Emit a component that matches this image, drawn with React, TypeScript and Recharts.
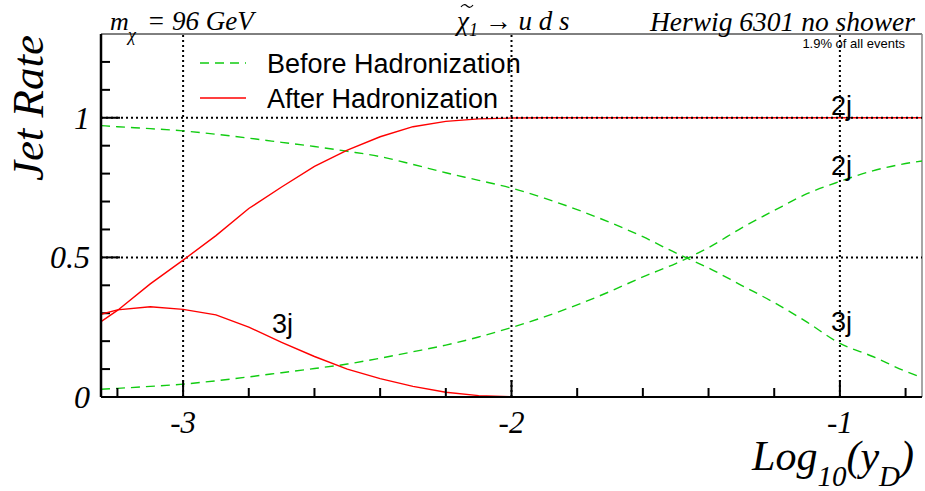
import React from "react";
import { LineChart, Line, XAxis, YAxis, ReferenceLine } from "recharts";

// log10(y_cut) sample points
const logY = [
  -3.25, -3.2, -3.1, -3.0, -2.9, -2.8, -2.7, -2.6, -2.5, -2.4, -2.3, -2.2, -2.1,
  -2.0, -1.9, -1.8, -1.7, -1.6, -1.5, -1.4, -1.3, -1.2, -1.1, -1.0, -0.9, -0.8, -0.75,
];

// before hadronization (partons)
const before2j = [
  0.028, 0.031, 0.038, 0.046, 0.058, 0.072, 0.087, 0.102, 0.118, 0.139, 0.162, 0.186, 0.215,
  0.249, 0.287, 0.33, 0.378, 0.43, 0.478, 0.535, 0.605, 0.668, 0.728, 0.772, 0.81, 0.836, 0.845,
];
const before3j = [
  0.972, 0.968, 0.961, 0.953, 0.941, 0.927, 0.912, 0.897, 0.88, 0.861, 0.833, 0.803, 0.776,
  0.748, 0.712, 0.671, 0.625, 0.574, 0.516, 0.462, 0.4, 0.338, 0.268, 0.192, 0.145, 0.092, 0.07,
];

// after hadronization
const after2j = [
  0.27, 0.31, 0.405, 0.49, 0.578, 0.675, 0.752, 0.826, 0.884, 0.932, 0.968, 0.987, 0.996,
  0.999, 1, 1, 1, 1, 1, 1, 1, 1, 1, 1, 1, 1, 1,
];
const after3j = [
  0.296, 0.312, 0.323, 0.314, 0.294, 0.25, 0.196, 0.145, 0.1, 0.066, 0.038, 0.017, 0.005,
  0.001, 0, 0, 0, 0, 0, 0, 0, 0, 0, 0, 0, 0, 0,
];

const xTicks = [-3.2, -3.0, -2.8, -2.6, -2.4, -2.2, -2.0, -1.8, -1.6, -1.4, -1.2, -1.0, -0.8];
const xMajor = [-3, -2, -1];
const yTicks = [0, 0.1, 0.2, 0.3, 0.4, 0.5, 0.6, 0.7, 0.8, 0.9, 1.0, 1.1, 1.2];
const yMajor = [0, 0.5, 1];

const X_MIN = -3.25;
const X_MAX = -0.75;

const data = logY.map((x, i) => ({
  x,
  b2: before2j[i],
  b3: before3j[i],
  a2: after2j[i],
  a3: after3j[i],
}));

const GREEN = "#11cc11";
const RED = "#ff0000";
const serif = "'Liberation Serif', 'Times New Roman', serif";
const sans = "'Liberation Sans', Arial, sans-serif";

const isMajor = (v: number, list: number[]) => list.some((m) => Math.abs(m - v) < 1e-6);

const XTick = (props: any) => {
  const { x, y, payload } = props;
  const major = isMajor(payload.value, xMajor);
  return (
    <g>
      <line x1={x} x2={x} y1={y} y2={y - (major ? 17 : 9)} stroke="#000" strokeWidth={2} />
      {major && (
        <text x={x} y={y + 36} textAnchor="middle" fontFamily={serif} fontStyle="italic" fontSize={31} fill="#000">
          {String(Math.round(payload.value))}
        </text>
      )}
    </g>
  );
};

const YLabel = (props: any) => {
  const { x, y, payload } = props;
  if (!isMajor(payload.value, yMajor)) return <g />;
  return (
    <text x={x - 11} y={y + 11} textAnchor="end" fontFamily={serif} fontStyle="italic" fontSize={32} fill="#000">
      {String(payload.value)}
    </text>
  );
};

const dotted = { stroke: "#000", strokeWidth: 2, strokeDasharray: "2 3" };

export default function App() {
  return (
    <div style={{ position: "absolute", left: 0, top: 0, width: 925, height: 491, background: "#fff" }}>
      <LineChart width={925} height={491} data={data} margin={{ top: 34, right: 3, bottom: 93, left: 0 }}>
        <XAxis
          dataKey="x"
          type="number"
          domain={[X_MIN, X_MAX]}
          ticks={xTicks}
          tick={<XTick />}
          tickLine={false}
          tickSize={0}
          tickMargin={0}
          height={1}
          axisLine={{ stroke: "#000", strokeWidth: 2 }}
          interval={0}
          allowDataOverflow
        />
        <YAxis
          type="number"
          domain={[0, 1.3]}
          ticks={yTicks}
          tick={<YLabel />}
          tickLine={false}
          tickSize={0}
          tickMargin={0}
          width={101}
          axisLine={{ stroke: "#000", strokeWidth: 2.5 }}
          interval={0}
          allowDataOverflow
        />
        <ReferenceLine y={1.3} stroke="#000" strokeWidth={1} />
        <ReferenceLine x={X_MAX} stroke="#888" strokeWidth={1.5} />
        {/* inward y ticks (9px minor, 19px major) */}
        {yTicks.map((v) => (
          <ReferenceLine
            key={"yt" + v}
            ifOverflow="visible"
            stroke="#000"
            strokeWidth={2}
            segment={[
              { x: X_MIN, y: v },
              { x: X_MIN + (isMajor(v, yMajor) ? 0.058 : 0.0274), y: v },
            ]}
          />
        ))}
        {xMajor.map((v) => (
          <ReferenceLine key={"x" + v} x={v} {...dotted} />
        ))}
        <ReferenceLine y={0.5} {...dotted} />
        <Line dataKey="b3" type="monotone" stroke={GREEN} strokeWidth={1.4} strokeDasharray="9 6" dot={false} isAnimationActive={false} />
        <Line dataKey="b2" type="monotone" stroke={GREEN} strokeWidth={1.4} strokeDasharray="9 6" dot={false} isAnimationActive={false} />
        <Line dataKey="a3" type="linear" stroke={RED} strokeWidth={1.4} dot={false} isAnimationActive={false} />
        <Line dataKey="a2" type="linear" stroke={RED} strokeWidth={1.4} dot={false} isAnimationActive={false} />
        <ReferenceLine y={1} {...dotted} />
      </LineChart>
      <svg width={925} height={491} style={{ position: "absolute", left: 0, top: 0, pointerEvents: "none" }}>
        {/* legend */}
        <line x1={200} x2={246} y1={63} y2={63} stroke={GREEN} strokeWidth={1.4} strokeDasharray="9 6" />
        <text x={267} y={73} fontFamily={sans} fontSize={27} fill="#000">Before Hadronization</text>
        <line x1={200} x2={246} y1={98} y2={98} stroke={RED} strokeWidth={1.4} />
        <text x={267} y={108} fontFamily={sans} fontSize={27} fill="#000">After Hadronization</text>

        <text x={110} y={30} fontFamily={serif} fontStyle="italic" fontSize={26} fill="#000">
          m
        </text>
        <text x={128} y={41} fontFamily={serif} fontStyle="italic" fontSize={18} fill="#000">
          χ
        </text>
        <text x={147} y={30} fontFamily={serif} fontStyle="italic" fontSize={27} fill="#000">
          = 96 GeV
        </text>
        <path d="M461 7 q3 -4 6 -1 t6 -1" fill="none" stroke="#000" strokeWidth={1.2} />
        <text x={457} y={30} fontFamily={serif} fontStyle="italic" fontSize={27} fill="#000">
          χ<tspan fontSize={18} dy={6}>1</tspan>
          <tspan dy={-6}> → u d s</tspan>
        </text>
        <text x={915} y={31} textAnchor="end" fontFamily={serif} fontStyle="italic" fontSize={27.5} fill="#000">
          Herwig 6301 no shower
        </text>
        <text x={905} y={48} textAnchor="end" fontFamily={sans} fontSize={13} fill="#000">
          1.9% of all events
        </text>
        <text
          transform="translate(43,108) rotate(-90)"
          textAnchor="middle"
          fontFamily={serif}
          fontStyle="italic"
          fontSize={45}
          fill="#000"
        >
          Jet Rate
        </text>
        <text x={914} y={470} textAnchor="end" fontFamily={serif} fontStyle="italic" fontSize={42} fill="#000">
          Log<tspan fontSize={29} dy={16}>10</tspan>
          <tspan dy={-16}>(y</tspan>
          <tspan fontSize={29} dy={16}>D</tspan>
          <tspan dy={-16}>)</tspan>
        </text>
        <text x={272} y={333} fontFamily={sans} fontSize={27} fill="#000">3j</text>
        <text x={831} y={115} fontFamily={sans} fontSize={27} fill="#000">2j</text>
        <text x={831} y={175} fontFamily={sans} fontSize={27} fill="#000">2j</text>
        <text x={831} y={331} fontFamily={sans} fontSize={27} fill="#000">3j</text>
      </svg>
    </div>
  );
}
